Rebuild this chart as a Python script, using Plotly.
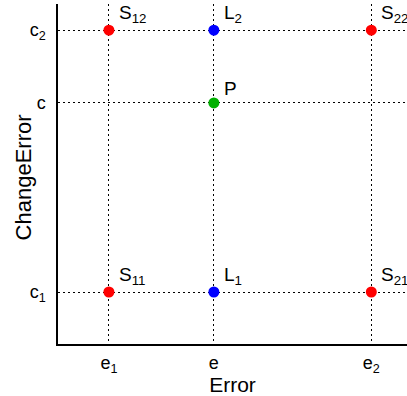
import plotly.graph_objects as go

# data
x_ticks = [0, 2, 5]
x_tick_labels = ["e<sub>1</sub>", "e", "e<sub>2</sub>"]
y_ticks = [0, 2.6, 3.6]
y_tick_labels = ["c<sub>1</sub>", "c", "c<sub>2</sub>"]

red_x = [0, 0, 5, 5]
red_y = [3.6, 0, 3.6, 0]
red_names = ["S<sub>12</sub>", "S<sub>11</sub>", "S<sub>22</sub>", "S<sub>21</sub>"]
blue_x = [2, 2]
blue_y = [3.6, 0]
blue_names = ["L<sub>2</sub>", "L<sub>1</sub>"]
green_x = [2]
green_y = [2.6]
green_names = ["P"]

FONT = "Liberation Sans, Arial, sans-serif"

fig = go.Figure()
for xs, ys, col in [(red_x, red_y, "#ff0000"), (blue_x, blue_y, "#0000ff"), (green_x, green_y, "#00b000")]:
    fig.add_trace(go.Scatter(x=xs, y=ys, mode="markers",
                             marker=dict(color=col, size=11, line=dict(width=0)),
                             cliponaxis=False, showlegend=False))

for xs, ys, names in [(red_x, red_y, red_names), (blue_x, blue_y, blue_names), (green_x, green_y, green_names)]:
    for x, y, n in zip(xs, ys, names):
        fig.add_annotation(x=x, y=y, text=n, showarrow=False, xanchor="left", yanchor="bottom",
                           xshift=8, yshift=2, font=dict(family=FONT, size=19, color="black"))

# y-axis title as rotated annotation
fig.add_annotation(xref="paper", yref="paper", x=0, y=0.49, text="ChangeError", textangle=-90,
                   showarrow=False, xanchor="center", yanchor="middle", xshift=-35,
                   font=dict(family=FONT, size=22, color="black"))

fig.update_layout(
    width=407, height=396,
    margin=dict(l=58, r=0, t=4, b=52),
    plot_bgcolor="white", paper_bgcolor="white",
    font=dict(family=FONT, color="black"),
    xaxis=dict(range=[-0.97, 5.68], tickvals=x_ticks, ticktext=x_tick_labels,
               showgrid=True, gridcolor="black", griddash="2px,3px", gridwidth=1,
               zeroline=False, showline=True, linecolor="black", linewidth=1.5,
               ticks="", ticklabelstandoff=2, tickfont=dict(size=18),
               title=dict(text="Error", font=dict(size=21), standoff=3)),
    yaxis=dict(range=[-0.715, 3.96], tickvals=y_ticks, ticktext=y_tick_labels,
               showgrid=True, gridcolor="black", griddash="2px,3px", gridwidth=1,
               zeroline=False, showline=True, linecolor="black", linewidth=1.5,
               ticks="", ticklabelstandoff=7, tickfont=dict(size=18)),
)

fig.write_html("out.html")
